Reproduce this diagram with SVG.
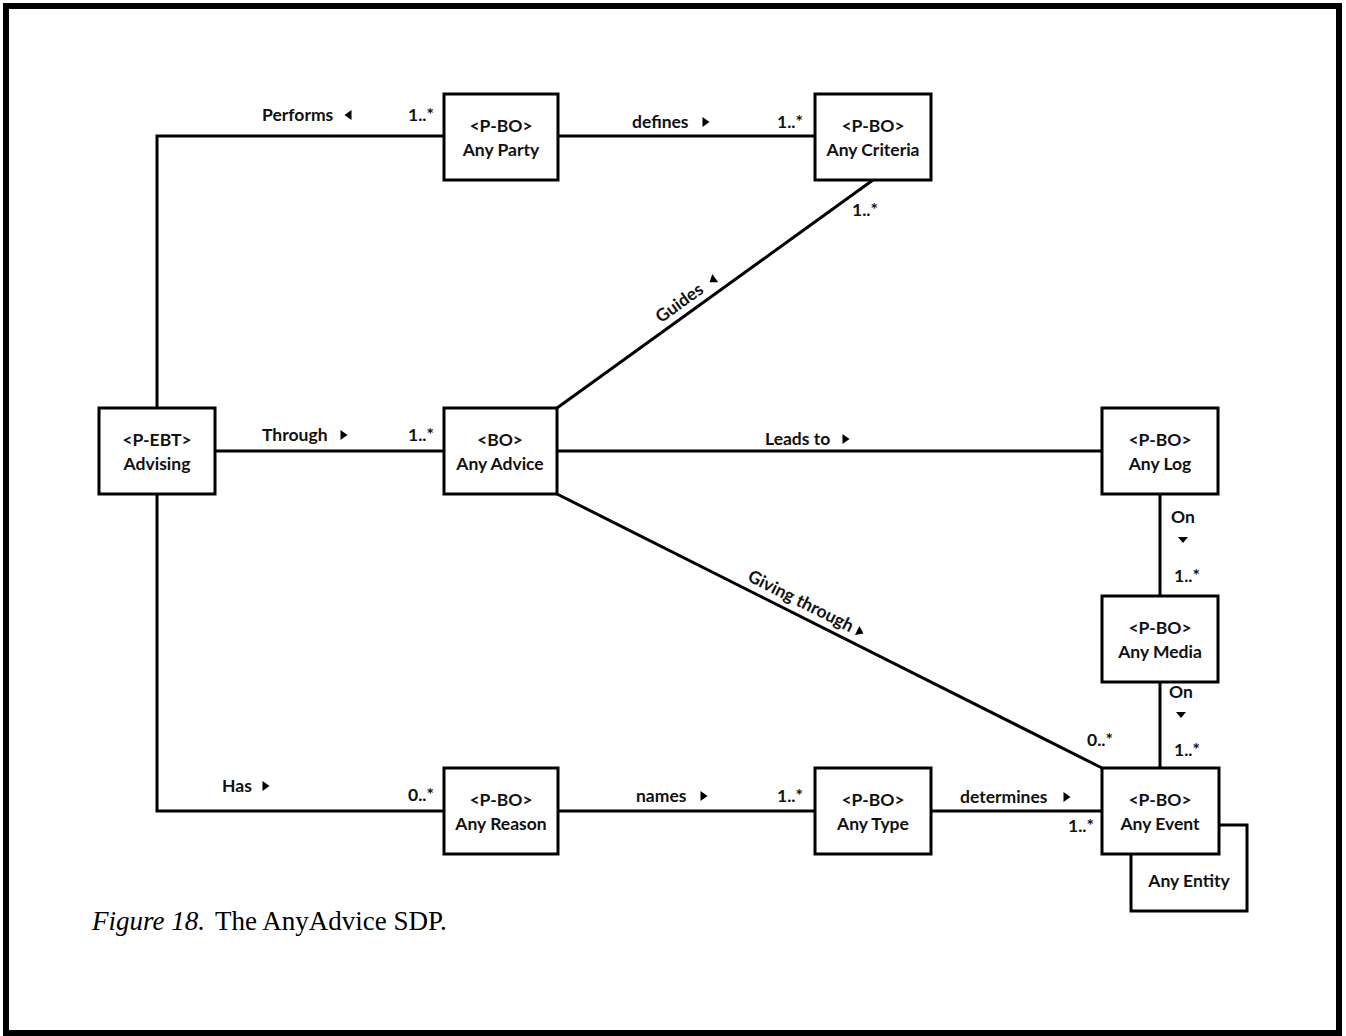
<svg xmlns="http://www.w3.org/2000/svg" xmlns:xlink="http://www.w3.org/1999/xlink" width="1346" height="1036" viewBox="0 0 1346 1036">
  <style>
    .box { fill: #fff; stroke: #000; stroke-width: 3; }
    .line { fill: none; stroke: #000; stroke-width: 3; }
    .t { font-family: Lato, "Liberation Sans", sans-serif; font-weight: bold; font-size: 17.5px; fill: #111; }
    .c { text-anchor: middle; }
    .cap { font-family: "Liberation Serif", serif; font-size: 27px; fill: #000; }
    .tri { fill: #000; }
  </style>
  <defs>
    <path id="triR" d="M-3.5,-5 L3.5,0 L-3.5,5 Z"/>
    <path id="triL" d="M3.5,-5 L-3.5,0 L3.5,5 Z"/>
    <path id="triD" d="M-5,-3 L5,-3 L0,3 Z"/>
  </defs>

  <rect width="1346" height="1036" fill="#fff"/>
  <!-- page frame -->
  <rect x="6" y="6" width="1333" height="1027" fill="none" stroke="#000" stroke-width="6"/>

  <!-- connectors -->
  <g id="connectors">
    <polyline class="line" points="157,408 157,136 444,136"/>
    <line class="line" x1="558" y1="136" x2="815" y2="136"/>
    <line class="line" x1="557" y1="408" x2="873" y2="180"/>
    <line class="line" x1="215" y1="451" x2="444" y2="451"/>
    <line class="line" x1="557" y1="451" x2="1102" y2="451"/>
    <line class="line" x1="557" y1="494" x2="1102" y2="768"/>
    <line class="line" x1="1160" y1="494" x2="1160" y2="596"/>
    <line class="line" x1="1160" y1="682" x2="1160" y2="768"/>
    <polyline class="line" points="157,494 157,811 444,811"/>
    <line class="line" x1="558" y1="811" x2="815" y2="811"/>
    <line class="line" x1="931" y1="811" x2="1102" y2="811"/>

    <!-- association labels -->
    <text class="t" x="262" y="121">Performs</text>
    <use href="#triL" class="tri" x="348" y="115"/>
    <text class="t c" x="421" y="121">1..*</text>

    <text class="t" x="632" y="128">defines</text>
    <use href="#triR" class="tri" x="706" y="122"/>
    <text class="t c" x="790" y="128">1..*</text>
    <text class="t c" x="865" y="216">1..*</text>

    <g transform="translate(558,408) rotate(-35.9)">
      <text class="t" x="133" y="-8">Guides</text>
      <use href="#triL" class="tri" x="200" y="-13"/>
    </g>

    <text class="t" x="262" y="441">Through</text>
    <use href="#triR" class="tri" x="344" y="435"/>
    <text class="t c" x="421" y="441">1..*</text>

    <text class="t" x="765" y="445">Leads to</text>
    <use href="#triR" class="tri" x="846" y="439"/>

    <g transform="translate(557,494) rotate(26.7)">
      <text class="t" x="208" y="-8">Giving through</text>
      <use href="#triR" class="tri" x="333" y="-13"/>
    </g>
    <text class="t c" x="1100" y="746">0..*</text>

    <text class="t c" x="1183" y="523">On</text>
    <use href="#triD" class="tri" x="1183" y="540"/>
    <text class="t c" x="1187" y="582">1..*</text>

    <text class="t c" x="1181" y="698">On</text>
    <use href="#triD" class="tri" x="1181" y="715"/>
    <text class="t c" x="1187" y="756">1..*</text>

    <text class="t" x="222" y="792">Has</text>
    <use href="#triR" class="tri" x="266" y="786"/>
    <text class="t c" x="421" y="801">0..*</text>

    <text class="t" x="636" y="802">names</text>
    <use href="#triR" class="tri" x="704" y="796"/>
    <text class="t c" x="790" y="802">1..*</text>

    <text class="t" x="960" y="803">determines</text>
    <use href="#triR" class="tri" x="1067" y="797"/>
    <text class="t c" x="1081" y="832">1..*</text>
  </g>

  <!-- nodes -->
  <g id="any-party">
    <rect class="box" x="444" y="94" width="114" height="86"/>
    <text class="t c" x="501" y="132">&lt;P-BO&gt;</text>
    <text class="t c" x="501" y="156">Any Party</text>
  </g>
  <g id="any-criteria">
    <rect class="box" x="815" y="94" width="116" height="86"/>
    <text class="t c" x="873" y="132">&lt;P-BO&gt;</text>
    <text class="t c" x="873" y="156">Any Criteria</text>
  </g>
  <g id="advising">
    <rect class="box" x="99" y="408" width="116" height="86"/>
    <text class="t c" x="157" y="446">&lt;P-EBT&gt;</text>
    <text class="t c" x="157" y="470">Advising</text>
  </g>
  <g id="any-advice">
    <rect class="box" x="444" y="408" width="113" height="86"/>
    <text class="t c" x="500" y="446">&lt;BO&gt;</text>
    <text class="t c" x="500" y="470">Any Advice</text>
  </g>
  <g id="any-log">
    <rect class="box" x="1102" y="408" width="116" height="86"/>
    <text class="t c" x="1160" y="446">&lt;P-BO&gt;</text>
    <text class="t c" x="1160" y="470">Any Log</text>
  </g>
  <g id="any-media">
    <rect class="box" x="1102" y="596" width="116" height="86"/>
    <text class="t c" x="1160" y="634">&lt;P-BO&gt;</text>
    <text class="t c" x="1160" y="658">Any Media</text>
  </g>
  <g id="any-reason">
    <rect class="box" x="444" y="768" width="114" height="86"/>
    <text class="t c" x="501" y="806">&lt;P-BO&gt;</text>
    <text class="t c" x="501" y="830">Any Reason</text>
  </g>
  <g id="any-type">
    <rect class="box" x="815" y="768" width="116" height="86"/>
    <text class="t c" x="873" y="806">&lt;P-BO&gt;</text>
    <text class="t c" x="873" y="830">Any Type</text>
  </g>
  <g id="any-entity">
    <rect class="box" x="1131" y="825" width="116" height="86"/>
    <text class="t c" x="1189" y="887">Any Entity</text>
  </g>
  <g id="any-event">
    <rect class="box" x="1102" y="768" width="117" height="86"/>
    <text class="t c" x="1160" y="806">&lt;P-BO&gt;</text>
    <text class="t c" x="1160" y="830">Any Event</text>
  </g>

  <!-- caption -->
  <text class="cap" x="92" y="930"><tspan font-style="italic">Figure 18.</tspan><tspan x="215">The AnyAdvice SDP.</tspan></text>
</svg>
